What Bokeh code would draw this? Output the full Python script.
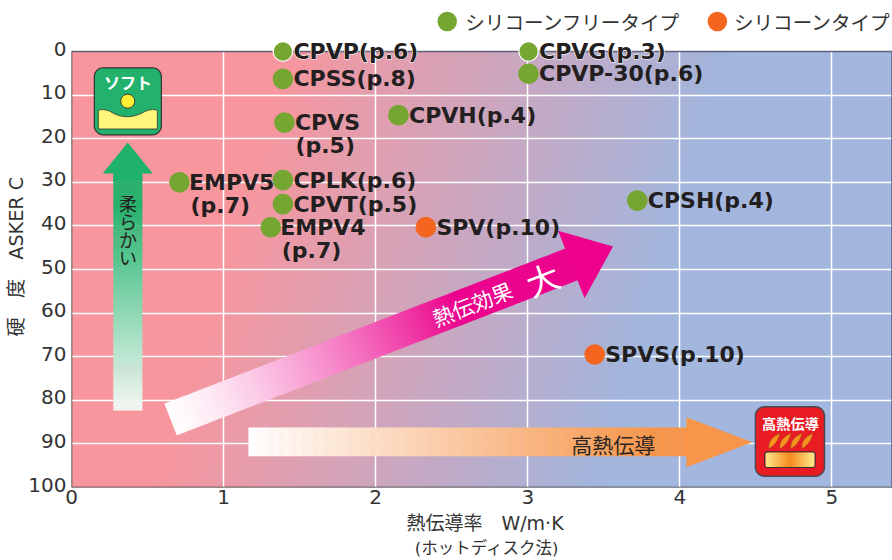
import numpy as np
from bokeh.plotting import figure
from bokeh.models import FixedTicker, LinearAxis, Range1d, ColumnDataSource
from bokeh.core.properties import value
from bokeh.embed import file_html
from bokeh.resources import INLINE

names = ["CPVP", "CPSS", "CPVS", "CPVH", "EMPV5", "CPLK", "CPVT", "EMPV4", "SPV",
         "CPVG", "CPVP-30", "CPSH", "SPVS"]
pages = ["(p.6)", "(p.8)", "(p.5)", "(p.4)", "(p.7)", "(p.6)", "(p.5)", "(p.7)", "(p.10)",
         "(p.3)", "(p.6)", "(p.4)", "(p.10)"]
conductivity = [1.39, 1.39, 1.40, 2.15, 0.71, 1.39, 1.39, 1.31, 2.33, 3.005, 3.005, 3.72, 3.44]
hardness = [0, 6.3, 16.3, 14.6, 30, 29.5, 35, 40.3, 40.3, 0, 5.1, 34.2, 69.5]
kinds = ["free", "free", "free", "free", "free", "free", "free", "free", "silicone",
         "free", "free", "free", "silicone"]
wrapped = ["CPVS", "EMPV5", "EMPV4"]
halo = ["CPVP", "CPVG"]
x_ticks = [0, 1, 2, 3, 4, 5]
y_ticks = [0, 10, 20, 30, 40, 50, 60, 70, 80, 90, 100]
legend_labels = ["シリコーンフリータイプ", "シリコーンタイプ"]
x_title_1 = "\u00a0熱伝導率　W/m·K"
x_title_2 = "\u00a0\u00a0(ホットディスク法)"
y_title = "硬　度　ASKER C　\u00a0"
colors = {"free": "#76A632", "silicone": "#F4651F"}

CJK = "Noto Sans CJK JP"
LAT = "DejaVu Sans"
MIX = "DejaVu Sans, Noto Sans CJK JP"
INK = "#231F20"

W, H = 892, 560
X0, X1PX = 71.5, 152.0      # px of x=0, px per unit
Y0, Y1PX = 51.0, 4.36       # px of y=0, px per unit
x_end = (W - X0) / X1PX
y_top = (0 - Y0) / Y1PX
XMAX = 5.395


def dx(px):
    return (np.asarray(px, dtype=float) - X0) / X1PX


def dy(py):
    return (np.asarray(py, dtype=float) - Y0) / Y1PX


p = figure(width=W, height=H, output_backend="svg", toolbar_location=None,
           x_range=Range1d(0, x_end), y_range=Range1d(100, y_top),
           y_axis_location=None,
           min_border_left=int(X0), min_border_right=0, min_border_top=0,
           min_border_bottom=H - 487,
           outline_line_color=None, background_fill_color="white", border_fill_color="white")

# background gradient
iw, ih = 820, 436
gx, gy = np.meshgrid(np.linspace(X0, 891, iw), np.linspace(487, 51, ih))
t = np.clip((gx - 0.30 * gy - 135) / (585 - 135), 0, 1)
c0 = np.array([0xF8, 0x96, 0x9E])
c1 = np.array([0xA2, 0xB6, 0xDE])
img = np.zeros((ih, iw), dtype=np.uint32)
v = img.view(dtype=np.uint8).reshape((ih, iw, 4))
for k in range(3):
    v[:, :, k] = (c0[k] + (c1[k] - c0[k]) * t).astype(np.uint8)
v[:, :, 3] = 255
p.image_rgba(image=[img], x=0, y=0, dw=XMAX, dh=100, level="image")

# grid
p.xgrid.ticker = FixedTicker(ticks=x_ticks[1:])
p.ygrid.ticker = FixedTicker(ticks=y_ticks[1:-1])
p.xgrid.bounds = (0, 100)
p.ygrid.bounds = (0, XMAX)
for g in (p.xgrid, p.ygrid):
    g.grid_line_color = "white"
    g.grid_line_width = 1.5
    g.level = "underlay"


def plain(ax, font_size="20px"):
    ax.axis_line_color = None
    ax.major_tick_line_color = None
    ax.minor_tick_line_color = None
    ax.major_tick_out = 0
    ax.minor_tick_out = 0
    ax.major_label_text_font = LAT
    ax.major_label_text_font_size = font_size
    ax.major_label_text_color = "#333333"


def title_axis(text, size, standoff):
    ax = LinearAxis(ticker=FixedTicker(ticks=[]))
    plain(ax, "1px")
    ax.major_label_standoff = 0
    ax.axis_label = text
    ax.axis_label_text_font = MIX
    ax.axis_label_text_font_style = "normal"
    ax.axis_label_text_font_size = f"{size}px"
    ax.axis_label_text_color = "#333333"
    ax.axis_label_standoff = standoff
    return ax


# axes
xa = p.xaxis[0]
xa.ticker = FixedTicker(ticks=x_ticks)
plain(xa)
xa.major_label_standoff = 2

p.add_layout(title_axis(x_title_1, 19, 5), "below")
t2 = title_axis(x_title_2, 16.5, 2)
t2.axis_label_text_baseline = "middle"
p.add_layout(t2, "below")

shift = 3 / Y1PX
p.extra_y_ranges = {"lab": Range1d(100 + shift, y_top + shift)}
ya = LinearAxis(y_range_name="lab", ticker=FixedTicker(ticks=y_ticks), bounds=(0, 100))
plain(ya)
ya.major_label_standoff = 5
p.add_layout(ya, "left")
p.add_layout(title_axis(y_title, 19.2, -2), "left")

# frame
p.line([0, 0, XMAX], [0, 100, 100], line_color="#333333", line_width=1.5)
p.line([0, XMAX, XMAX], [0, 0, 100], line_color="#4A4F66", line_width=1.5, line_alpha=0.85)


def lerp(a, b, f):
    return a + (b - a) * f


def hexrgb(h):
    return np.array([int(h[i:i + 2], 16) for i in (1, 3, 5)], dtype=float)


def mix(a, b, f):
    c = lerp(hexrgb(a), hexrgb(b), f)
    return "#%02X%02X%02X" % tuple(int(round(q)) for q in c)


def gradient_band(p0, p1, half, n, col_fn):
    """Quads along p0->p1 (px), colored by col_fn(f)."""
    p0 = np.array(p0, float)
    p1 = np.array(p1, float)
    u = (p1 - p0) / np.linalg.norm(p1 - p0)
    nrm = np.array([-u[1], u[0]])
    xs, ys, cs = [], [], []
    for i in range(n):
        a = lerp(p0, p1, i / n)
        b = lerp(p0, p1, (i + 1) / n) + u * 0.4
        q = np.array([a + nrm * half, b + nrm * half, b - nrm * half, a - nrm * half])
        xs.append(dx(q[:, 0]))
        ys.append(dy(q[:, 1]))
        cs.append(col_fn((i + 0.5) / n))
    p.patches(xs, ys, fill_color=cs, line_color=None)


def poly(px, py, **kw):
    p.patch(dx(px), dy(py), **kw)


def round_rect(l, t_, r, b, rad):
    a = np.linspace(0, np.pi / 2, 8)
    px = np.concatenate([r - rad + rad * np.sin(a), r - rad + rad * np.cos(a),
                         l + rad - rad * np.sin(a), l + rad - rad * np.cos(a)])
    py = np.concatenate([t_ + rad - rad * np.cos(a), b - rad + rad * np.sin(a),
                         b - rad + rad * np.cos(a), t_ + rad - rad * np.sin(a)])
    return px, py


def bez(p0, c, p1, n=12):
    s = np.linspace(0, 1, n)[:, None]
    return (1 - s) ** 2 * np.array(p0, float) + 2 * s * (1 - s) * np.array(c, float) + s ** 2 * np.array(p1, float)


def text_px(x, y, txt, size, color=INK, font=CJK, angle=0.0, style="normal", align="center", **kw):
    p.text([float(dx(x))], [float(dy(y))], text=[txt], text_font=value(font),
           text_font_size=f"{size}px", text_color=color, text_align=align,
           text_baseline="middle", angle=angle, text_font_style=style, **kw)


# green arrow
def green(f):
    if f < 0.12:
        return "#1FB26B"
    return mix("#1FB26B", "#F3F9F5", (f - 0.12) / 0.88)


poly([127.7, 152.7, 142.3, 142.3, 113.3, 113.3, 102.7], [142, 173, 173, 180, 180, 173, 173],
     fill_color="#1FB26B", line_color=None)
gradient_band((127.8, 175), (127.8, 409.7), 14.5, 118, green)
text_px(128, 229.5, "柔\nら\nか\nい", 18, text_line_height=0.7)

# magenta arrow
tail = np.array([170.5, 419.0])
tip = np.array([612.7, 246.0])
u = (tip - tail) / np.linalg.norm(tip - tail)
n = np.array([-u[1], u[0]])
headc = np.array([571.0, 264.0])


def magenta(f):
    return mix("#FFFFFF", "#EC008C", min(f / 0.72, 1) ** 1.3)


gradient_band(tail, headc, 17, 210, magenta)
hp = np.array([headc + n * 36.3, tip, headc - n * 36.3])
poly(hp[:, 0], hp[:, 1], fill_color="#EC008C", line_color=None)
ang = float(np.arctan2(-u[1], u[0]))
text_px(472, 303, "熱伝効果", 21, color="white", angle=ang)
text_px(542, 278, "大", 33, color="white", angle=ang)

# orange arrow
gradient_band((248.3, 441.4), (686.5, 441.4), 14.4, 200, lambda f: mix("#FFFFFF", "#F7964A", min(f / 0.92, 1)))
poly([686, 752, 686], [416.7, 441.7, 466.7], fill_color="#F7964A", line_color=None)
text_px(613, 443, "高熱伝導", 21, color="#2B2622")

# soft icon
px, py = round_rect(94.3, 67.3, 161.3, 134.3, 9)
poly(px, py, fill_color="#23B26D", line_color="#333333", line_width=1.2)
c1_ = bez((98.3, 110), (104, 107.5), (112, 112))
c2_ = bez((112, 112), (127, 120.5), (143, 112))
c3_ = bez((143, 112), (151, 107.5), (157.3, 110))
hill = np.vstack([c1_, c2_, c3_])
poly(np.r_[hill[:, 0], 157.3, 98.3], np.r_[hill[:, 1], 128.5, 128.5],
     fill_color="#FFF57A", line_color="#333333", line_width=0.8)
a_ = np.linspace(0, 2 * np.pi, 32)
poly(127.7 + 7 * np.cos(a_), 100.7 + 7 * np.sin(a_), fill_color="#FFF033", line_color="#333333", line_width=1)
text_px(128, 81.5, "ソフト", 16, color="white", style="bold")

# heat icon
px, py = round_rect(755, 406.3, 824, 475.7, 9)
poly(px, py, fill_color="#E91C24", line_color="#4A4A55", line_width=1.5)
text_px(790, 422, "高熱伝導", 14.2, color="white", style="bold")
for fx in (768.5, 779.5, 790.5, 801.5):
    a1 = bez((fx, 448), (fx - 1, 438), (fx + 11, 433))
    a2 = bez((fx + 11, 433), (fx + 8, 444), (fx, 448))
    fl = np.vstack([a1, a2])
    poly(fl[:, 0], fl[:, 1], fill_color="#F7941E", line_color="#8A5A20", line_width=0.5)
gradient_band((765, 459.2), (814, 459.2), 7.3, 49,
              lambda f: mix("#F7941E", "#FFF08A", min(abs(f - 0.5) * 2.2, 1)))
px, py = round_rect(764.3, 451.3, 814.7, 467, 3)
poly(px, py, fill_alpha=0, line_color="#333333", line_width=1.1)

# data markers
mcolors = [colors[k] for k in kinds]
mlines = ["white" if nm in halo else c for nm, c in zip(names, mcolors)]
src = ColumnDataSource(dict(x=conductivity, y=hardness, c=mcolors, l=mlines))
p.scatter("x", "y", source=src, size=19.5, fill_color="c", line_color="l", line_width=1.2)

# data labels
lx, ly, lt, lyo, lxo = [], [], [], [], []
for nm, pg, xv, yv in zip(names, pages, conductivity, hardness):
    xo = 9.5 if nm.startswith("E") else 10.5
    if nm in wrapped:
        lx += [xv, xv]
        ly += [yv, yv]
        lt += [nm, pg]
        lyo += [0, 23]
        lxo += [xo, 11]
    else:
        lx.append(xv)
        ly.append(yv)
        lt.append(nm + pg)
        lyo.append(0)
        lxo.append(xo)
        if nm in halo:
            p.text([xv], [yv], text=[nm + pg], x_offset=xo, y_offset=0,
                   text_font=value(LAT), text_font_style="bold", text_font_size="22px",
                   text_color="white", text_outline_color="white",
                   text_baseline="middle", text_align="left")
ls = ColumnDataSource(dict(x=lx, y=ly, t=lt, yo=lyo, xo=lxo))
p.text("x", "y", text="t", source=ls, x_offset="xo", y_offset="yo",
       text_font=value(LAT), text_font_style="bold", text_font_size="22px",
       text_color=INK, text_baseline="middle", text_align="left")

# legend
p.scatter(dx([447, 717]), dy([21, 21]), size=19.5,
          fill_color=[colors["free"], colors["silicone"]], line_color=None)
text_px(465, 21, legend_labels[0], 19.6, color="#333333", align="left")
text_px(733.5, 21, legend_labels[1], 19.6, color="#333333", align="left")

open("out.html", "w").write(file_html(p, INLINE))
